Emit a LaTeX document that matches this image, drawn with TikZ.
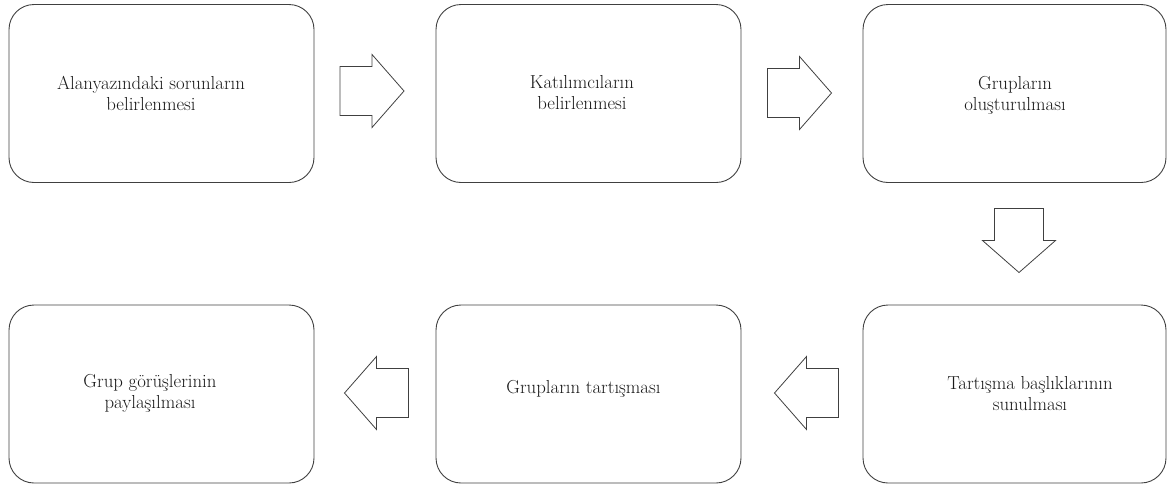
\documentclass[tikz,border=0pt]{standalone}
\usepackage{fontspec}
\begin{document}
\begin{tikzpicture}[x=1pt,y=-1pt,
  box/.style={draw=black!75, line width=0.9pt, rounded corners=25pt, minimum width=305pt, minimum height=178pt, inner sep=0pt},
  boxtext/.style={align=center, font=\fontsize{18.8}{21}\selectfont, text=black!90, inner sep=0pt},
  arrowline/.style={draw=black!75, line width=0.8pt, line join=miter},
  blockarrow/.pic={\path[arrowline] (-32,-24.5) -- (0,-24.5) -- (0,-36.5) -- (32,0) -- (0,36.5) -- (0,24.5) -- (-32,24.5) -- cycle;}
]
\useasboundingbox (0,0) rectangle (1167,485);
% boxes
\node[box] (b1) at (161.5,93.5) {};
\node[box] (b2) at (588.5,93.5) {};
\node[box, minimum width=303pt] (b3) at (1014.5,93.5) {};
\node[box, minimum width=303pt] (b4) at (1014.5,394) {};
\node[box] (b5) at (588.5,394) {};
\node[box] (b6) at (161.5,394) {};
% texts
\node[boxtext] (t1) at (151,93) {Alanyazındaki sorunların\\belirlenmesi};
\node[boxtext] (t2) at (582,93) {Katılımcıların\\belirlenmesi};
\node[boxtext] (t3) at (1015,95) {Grupların\\oluşturulması};
\node[boxtext] (t4) at (1030,394) {Tartışma başlıklarının\\sunulması};
\node[boxtext] (t5) at (583.5,389) {Grupların tartışması};
\node[boxtext] (t6) at (150,393) {Grup görüşlerinin\\paylaşılması};
% block arrows
\pic at (372,91) {blockarrow};
\pic at (799.5,93) {blockarrow};
\pic[rotate=-90] at (1019,240.5) {blockarrow};
\pic[rotate=180] at (806.5,393) {blockarrow};
\pic[rotate=180] at (376.5,393) {blockarrow};
\end{tikzpicture}
\end{document}
